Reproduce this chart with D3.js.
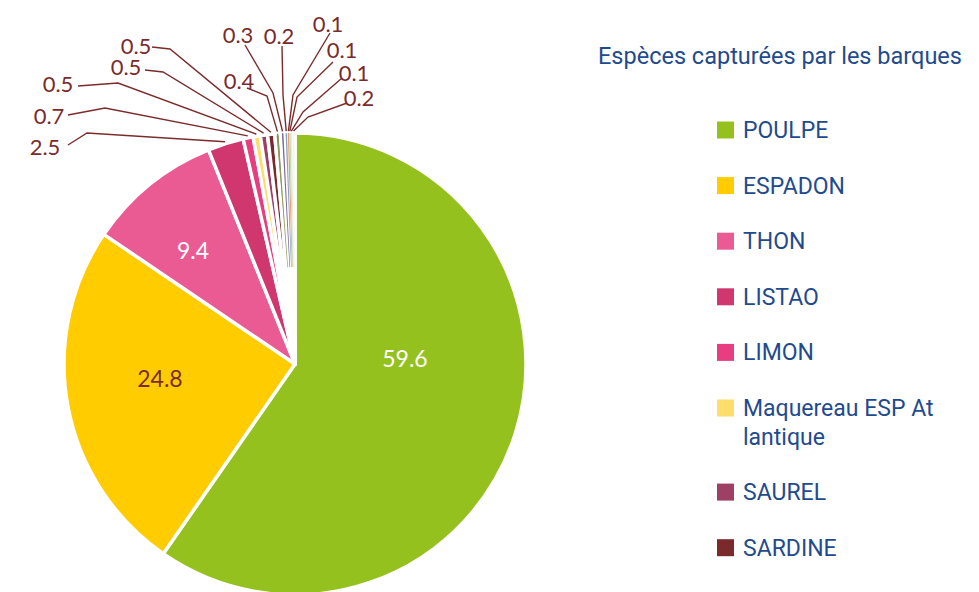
<!DOCTYPE html>
<html>
<head>
<meta charset="utf-8">
<script src="https://cdn.jsdelivr.net/npm/d3@7"></script>
<style>
  html, body { margin: 0; padding: 0; background: #ffffff; }
  svg { display: block; }
</style>
</head>
<body>
<svg id="chart" width="979" height="592"></svg>
<script>
// ---- data -------------------------------------------------------------
const species = [
  "POULPE", "ESPADON", "THON", "LISTAO", "LIMON",
  "Maquereau ESP Atlantique", "SAUREL", "SARDINE",
  "Autre espèce 1", "Autre espèce 2", "Autre espèce 3", "Autre espèce 4",
  "Autre espèce 5", "Autre espèce 6", "Autre espèce 7"
];
const shares = [59.6, 24.8, 9.4, 2.5, 0.7, 0.5, 0.5, 0.5, 0.4, 0.3, 0.2, 0.1, 0.1, 0.1, 0.2];
const sliceColors = [
  "#95c11f", "#ffcc00", "#ea5b93", "#d0376f", "#e83e80",
  "#fddd6b", "#9e3f66", "#7a2a2a",
  "#8c9a5b", "#7a6a9c", "#8ba2c4", "#e8a16b", "#c5ddb0", "#e6edd8", "#f3f5ee"
];
const legendTitle = "Espèces capturées par les barques";
const legendShown = 8;

// ---- layout -----------------------------------------------------------
const cx = 295, cy = 364, R = 231;
const labelInk = "#7a2c2c";
const legendInk = "#1f4b8e";

// value labels drawn inside their slice: offset from the pie centre
const insideLabels = {
  0: { dx: 110, dy: -6, fill: "#ffffff" },
  1: { dx: -135, dy: 14, fill: labelInk },
  2: { dx: -102, dy: -114, fill: "#ffffff" }
};
// value labels drawn outside: text centre, leader start, leader elbow
const outsideLabels = {
  3:  { t: [45, 146],  s: [68, 145],  e: [87, 133] },
  4:  { t: [49, 115],  s: [68, 115],  e: [105, 108] },
  5:  { t: [58, 83],   s: [78, 86],   e: [118, 83] },
  6:  { t: [126, 66],  s: [145, 70],  e: [163, 72] },
  7:  { t: [136, 45],  s: [152, 47],  e: [170, 49] },
  8:  { t: [239, 80],  s: [247, 88],  e: [267, 96] },
  9:  { t: [238, 34],  s: [245, 45],  e: [273, 93] },
  10: { t: [279, 35],  s: [282, 46],  e: [283, 95] },
  11: { t: [328, 23],  s: [330, 33],  e: [293, 95] },
  12: { t: [342, 49],  s: [333, 62],  e: [297, 97] },
  13: { t: [354, 72],  s: [342, 78],  e: [303, 112] },
  14: { t: [359, 97],  s: [347, 103], e: [308, 117] }
};

const svg = d3.select("#chart");

// ---- pie --------------------------------------------------------------
const pie = d3.pie().sort(null).value(d => d.v)
  .startAngle(0).endAngle(2 * Math.PI);
const slices = pie(shares.map((v, i) => ({ v, i })));

const arc = d3.arc().innerRadius(0).outerRadius(R);
const pieG = svg.append("g").attr("transform", `translate(${cx},${cy})`);

pieG.selectAll("path.slice")
  .data(slices)
  .join("path")
  .attr("class", "slice")
  .attr("d", arc)
  .attr("fill", d => sliceColors[d.data.i])
  .attr("stroke", "#ffffff")
  .attr("stroke-width", 3.5)
  .attr("stroke-linejoin", "round");

// hairline wedges keep the very thin slices visible between the white borders
const hair = 1.4 / R;
pieG.selectAll("path.hair")
  .data(slices.filter(d => (d.endAngle - d.startAngle) * R < 6))
  .join("path")
  .attr("class", "hair")
  .attr("d", d => {
    const mid = (d.startAngle + d.endAngle) / 2;
    const w = Math.min(hair, d.endAngle - d.startAngle) / 2;
    return d3.arc()({ innerRadius: R * 0.42, outerRadius: R, startAngle: mid - w, endAngle: mid + w });
  })
  .attr("fill", d => sliceColors[d.data.i]);

// ---- value labels -----------------------------------------------------
const valueFont = "Lato, 'Open Sans', sans-serif";

slices.forEach(d => {
  const i = d.data.i;
  const txt = d3.format(".1f")(d.data.v);
  if (insideLabels[i]) {
    const L = insideLabels[i];
    svg.append("text")
      .attr("x", cx + L.dx).attr("y", cy + L.dy)
      .attr("text-anchor", "middle").attr("dominant-baseline", "central")
      .attr("font-family", valueFont).attr("font-size", 23)
      .attr("fill", L.fill)
      .text(txt);
  } else if (outsideLabels[i]) {
    const L = outsideLabels[i];
    const mid = (d.startAngle + d.endAngle) / 2;
    const tip = [cx + (R + 2) * Math.sin(mid), cy - (R + 2) * Math.cos(mid)];
    svg.append("path")
      .attr("d", d3.line()([L.s, L.e, tip]))
      .attr("fill", "none")
      .attr("stroke", labelInk)
      .attr("stroke-width", 1.4);
    svg.append("text")
      .attr("x", L.t[0]).attr("y", L.t[1])
      .attr("text-anchor", "middle").attr("dominant-baseline", "central")
      .attr("font-family", valueFont).attr("font-size", 22)
      .attr("fill", labelInk)
      .text(txt);
  }
});

// ---- legend -----------------------------------------------------------
const legendFont = "Roboto, 'Noto Sans', sans-serif";
svg.append("text")
  .attr("x", 598).attr("y", 64)
  .attr("font-family", legendFont).attr("font-size", 23.5)
  .attr("fill", legendInk)
  .text(legendTitle);

const legendX = 717, legendY0 = 130, rowStep = 55.6, lineStep = 28.5, wrapWidth = 192;
const legendG = svg.append("g");

// break a name into lines no wider than wrapWidth, character by character
function wrapChars(name, probe) {
  const lines = [];
  let cur = "";
  for (const ch of name) {
    probe.text(cur + ch);
    if (cur && probe.node().getComputedTextLength() > wrapWidth) {
      lines.push(cur.trimEnd());
      cur = ch.trim() ? ch : "";
    } else {
      cur += ch;
    }
  }
  if (cur) lines.push(cur);
  return lines;
}

const probe = svg.append("text")
  .attr("font-family", legendFont).attr("font-size", 23)
  .attr("visibility", "hidden");

let extra = 0;
species.slice(0, legendShown).forEach((name, i) => {
  const yc = legendY0 + i * rowStep + extra * lineStep;
  legendG.append("rect")
    .attr("x", legendX).attr("y", yc - 8.5)
    .attr("width", 17).attr("height", 17)
    .attr("fill", sliceColors[i]);
  const lines = wrapChars(name, probe);
  const t = legendG.append("text")
    .attr("font-family", legendFont).attr("font-size", 23)
    .attr("fill", legendInk);
  lines.forEach((ln, k) => {
    t.append("tspan").attr("x", legendX + 26).attr("y", yc + 8 + k * lineStep).text(ln);
  });
  extra += lines.length - 1;
});
probe.remove();
</script>
</body>
</html>
